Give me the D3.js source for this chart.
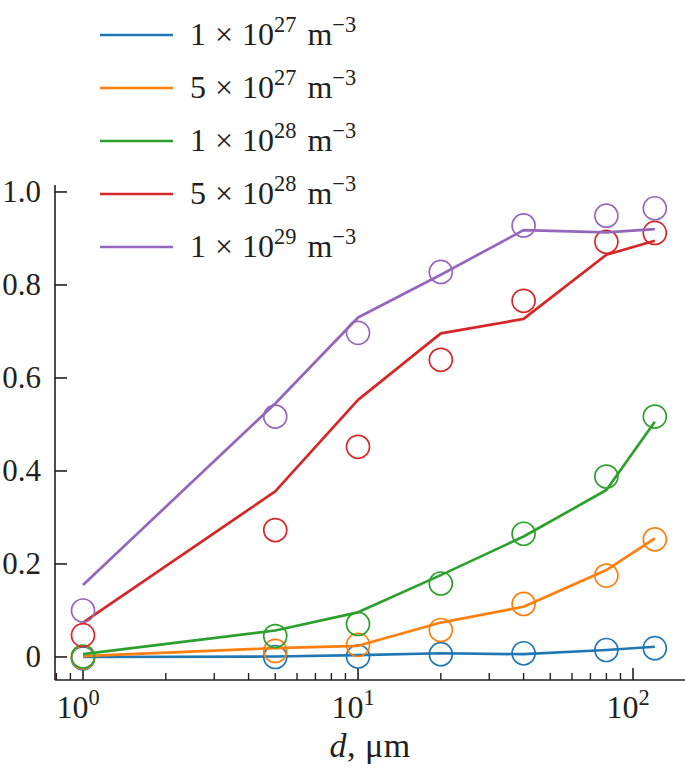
<!DOCTYPE html>
<html>
<head>
<meta charset="utf-8">
<script src="https://cdn.jsdelivr.net/npm/d3@7"></script>
<style>
  html, body { margin: 0; padding: 0; background: #fff; }
  svg text { font-family: "Liberation Serif", "Times New Roman", serif; fill: #231f20; }
</style>
</head>
<body>
<svg id="chart" width="685" height="772"></svg>
<script>
// ---- data ----
const dValues = [1, 5, 10, 20, 40, 80, 120];               // d, µm
const seriesMantissa = ["1", "5", "1", "5", "1"];
const seriesExponent = ["27", "27", "28", "28", "29"];
const seriesColors = ["#1f77b4", "#ff7f0e", "#2ca02c", "#d62728", "#9467bd"];
// fitted curves (lines)
const line1e27 = [0.000, 0.001, 0.004, 0.008, 0.006, 0.015, 0.022];
const line5e27 = [0.002, 0.019, 0.024, 0.074, 0.108, 0.187, 0.255];
const line1e28 = [0.006, 0.057, 0.096, 0.176, 0.259, 0.359, 0.506];
const line5e28 = [0.074, 0.356, 0.553, 0.696, 0.727, 0.865, 0.895];
const line1e29 = [0.155, 0.545, 0.730, 0.822, 0.918, 0.913, 0.920];
// measured points (open circles)
const pts1e27 = [-0.003, 0.000, 0.001, 0.006, 0.008, 0.015, 0.019];
const pts5e27 = [-0.001, 0.013, 0.026, 0.058, 0.114, 0.175, 0.253];
const pts1e28 = [0.001, 0.045, 0.071, 0.158, 0.265, 0.388, 0.517];
const pts5e28 = [0.047, 0.273, 0.452, 0.639, 0.766, 0.893, 0.912];
const pts1e29 = [0.100, 0.517, 0.697, 0.828, 0.928, 0.949, 0.965];
const yTickValues = [0, 0.2, 0.4, 0.6, 0.8, 1.0];
const yTickLabels = ["0", "0.2", "0.4", "0.6", "0.8", "1.0"];
const xTickValues = [1, 10, 100];
const xTickExponents = ["0", "1", "2"];

const lines = [line1e27, line5e27, line1e28, line5e28, line1e29];
const points = [pts1e27, pts5e27, pts1e28, pts5e28, pts1e29];

// ---- layout ----
const svg = d3.select("#chart");
const mLeft = 55, mRight = 685, mTop = 185, mBottom = 680;
const FS = 31;

const x = d3.scaleLog().domain([0.791, 154.5]).range([mLeft, mRight]);
const y = d3.scaleLinear().domain([-0.0495, 1.015]).range([mBottom, mTop]);

const ink = "#231f20";

// spines
svg.append("line").attr("x1", mLeft).attr("x2", mLeft).attr("y1", mTop).attr("y2", mBottom)
  .attr("stroke", ink).attr("stroke-width", 1.6);
svg.append("line").attr("x1", mLeft).attr("x2", mRight).attr("y1", mBottom).attr("y2", mBottom)
  .attr("stroke", ink).attr("stroke-width", 1.6);

// y ticks (inward)
const yAxis = svg.append("g");
yTickValues.forEach((v, i) => {
  yAxis.append("line").attr("x1", mLeft).attr("x2", mLeft + 12)
    .attr("y1", y(v)).attr("y2", y(v)).attr("stroke", ink).attr("stroke-width", 1.6);
  yAxis.append("text").attr("x", 41).attr("y", y(v)).attr("dy", "0.33em")
    .attr("text-anchor", "end").attr("font-size", FS).text(yTickLabels[i]);
});

// x ticks (inward) major + minor
const xAxis = svg.append("g");
const minor = [];
[-1, 0, 1, 2].forEach(k => {
  for (let m = 2; m <= 9; m++) {
    const v = m * Math.pow(10, k);
    if (v > x.domain()[0] && v < x.domain()[1]) minor.push(v);
  }
});
minor.forEach(v => {
  xAxis.append("line").attr("x1", x(v)).attr("x2", x(v))
    .attr("y1", mBottom).attr("y2", mBottom - 7).attr("stroke", ink).attr("stroke-width", 1.4);
});
xTickValues.forEach((v, i) => {
  xAxis.append("line").attr("x1", x(v)).attr("x2", x(v))
    .attr("y1", mBottom).attr("y2", mBottom - 12).attr("stroke", ink).attr("stroke-width", 1.6);
  const t = xAxis.append("text").attr("x", x(v) - 5).attr("y", 718)
    .attr("text-anchor", "middle").attr("font-size", FS + 1);
  t.append("tspan").text("10");
  t.append("tspan").attr("font-size", (FS + 1) * 0.7).attr("dy", -13).text(xTickExponents[i]);
});

// x label
const xl = svg.append("text").attr("x", (mLeft + mRight) / 2).attr("y", 757)
  .attr("text-anchor", "middle").attr("font-size", FS + 3).attr("letter-spacing", 0.5);
xl.append("tspan").attr("font-style", "italic").text("d");
xl.append("tspan").text(", \u03BCm");

// series
const lineGen = d3.line().x((d, i) => x(dValues[i])).y(d => y(d));
lines.forEach((ser, s) => {
  svg.append("path").datum(ser).attr("d", lineGen)
    .attr("fill", "none").attr("stroke", seriesColors[s]).attr("stroke-width", 2.7)
    .attr("stroke-linejoin", "round");
  svg.append("g").selectAll("circle").data(points[s]).join("circle")
    .attr("cx", (d, i) => x(dValues[i])).attr("cy", d => y(d)).attr("r", 11.5)
    .attr("fill", "none").attr("stroke", seriesColors[s]).attr("stroke-width", 1.7);
});

// legend
const legend = svg.append("g");
const LFS = 32;
seriesColors.forEach((c, i) => {
  const ly = 35 + i * 53;
  legend.append("line").attr("x1", 100).attr("x2", 173).attr("y1", ly).attr("y2", ly)
    .attr("stroke", c).attr("stroke-width", 2.7);
  const t = legend.append("text").attr("x", 190).attr("y", ly + 10).attr("font-size", LFS);
  t.append("tspan").text(seriesMantissa[i]);
  t.append("tspan").attr("dx", 9).text("\u00D7");
  t.append("tspan").attr("dx", 9).text("10");
  t.append("tspan").attr("font-size", LFS * 0.7).attr("dy", -13).text(seriesExponent[i]);
  t.append("tspan").attr("dy", 13).attr("dx", 11).text("m");
  t.append("tspan").attr("font-size", LFS * 0.7).attr("dy", -13).text("\u22123");
});
</script>
</body>
</html>
